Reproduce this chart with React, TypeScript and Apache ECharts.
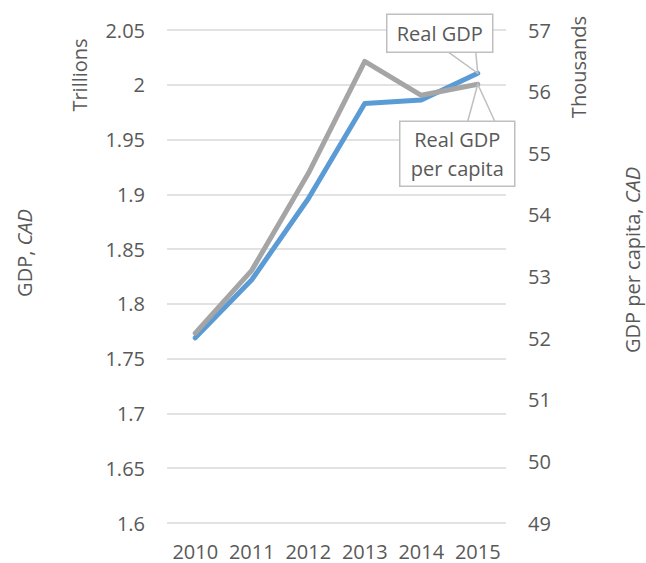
import React, { useEffect, useRef } from "react";
import * as echarts from "echarts";

const years = ["2010", "2011", "2012", "2013", "2014", "2015"];
const realGdpTrillions = [1.769, 1.822, 1.896, 1.983, 1.986, 2.0105];
const gdpPerCapitaThousands = [52.08, 53.1, 54.67, 56.49, 55.94, 56.12];
const leftAxisName = "Trillions";
const rightAxisName = "Thousands";
const leftTitle = ["GDP, ", "CAD"];
const rightTitle = ["GDP per capita, ", "CAD"];
const labelGdp = "Real GDP";
const labelPerCapita = ["Real GDP", "per capita"];

const FONT = "'Open Sans', sans-serif";
const TXT = "#595959";
const BLUE = "#5B9BD5";
const GRAY = "#A5A5A5";
const BOX = "#BFBFBF";

export default function App() {
  const ref = useRef<HTMLDivElement>(null);
  useEffect(() => {
    const chart = echarts.init(ref.current!, null, { renderer: "svg" });
    const option: any = {
      animation: false,
      backgroundColor: "#fff",
      grid: { left: 167, right: 140, top: 30, bottom: 40 },
      xAxis: {
        type: "category",
        data: years,
        boundaryGap: true,
        axisLine: { show: false },
        axisTick: { show: false },
        axisLabel: {
          color: TXT,
          fontFamily: FONT,
          fontSize: 20,
          margin: 18,
          interval: 0,
          hideOverlap: false,
        },
      },
      yAxis: [
        {
          type: "value",
          min: 1.6,
          max: 2.05,
          interval: 0.05,
          axisLine: { show: false },
          axisTick: { show: false },
          splitLine: { lineStyle: { color: "#D9D9D9", width: 1.5 } },
          axisLabel: {
            color: TXT,
            fontFamily: FONT,
            fontSize: 20,
            margin: 22,
            formatter: (v: number) => String(parseFloat(v.toFixed(2))),
          },
        },
        {
          type: "value",
          min: 49,
          max: 57,
          interval: 1,
          axisLine: { show: false },
          axisTick: { show: false },
          splitLine: { show: false },
          axisLabel: { color: TXT, fontFamily: FONT, fontSize: 20, margin: 22 },
        },
      ],
      series: [
        {
          name: "Real GDP",
          type: "line",
          yAxisIndex: 0,
          data: realGdpTrillions,
          symbol: "none",
          lineStyle: { color: BLUE, width: 5, cap: "round", join: "round" },
          z: 2,
        },
        {
          name: "Real GDP per capita",
          type: "line",
          yAxisIndex: 1,
          data: gdpPerCapitaThousands,
          symbol: "none",
          lineStyle: { color: GRAY, width: 5, cap: "round", join: "round" },
          z: 3,
        },
      ],
    };
    chart.setOption(option);

    const last = years.length - 1;
    const p1 = chart.convertToPixel({ gridIndex: 0 } as any, [last, realGdpTrillions[last]]) as number[];
    const p2 = chart.convertToPixel({ xAxisIndex: 0, yAxisIndex: 1 } as any, [last, gdpPerCapitaThousands[last]]) as number[];

    const textStyle = { fill: TXT, font: `20px ${FONT}` };
    const graphic: any[] = [
      {
        type: "text",
        x: 79,
        y: 75,
        rotation: Math.PI / 2,
        style: { text: leftAxisName, ...textStyle, align: "center", verticalAlign: "middle" },
      },
      {
        type: "text",
        x: 578,
        y: 67,
        rotation: Math.PI / 2,
        style: { text: rightAxisName, ...textStyle, align: "center", verticalAlign: "middle" },
      },
      {
        type: "text",
        x: 24,
        y: 253,
        rotation: Math.PI / 2,
        style: {
          text: `{n|${leftTitle[0]}}{i|${leftTitle[1]}}`,
          align: "center",
          verticalAlign: "middle",
          rich: {
            n: { fill: TXT, fontFamily: FONT, fontSize: 20 },
            i: { fill: TXT, fontFamily: FONT, fontSize: 20, fontStyle: "italic" },
          },
        },
      },
      {
        type: "text",
        x: 632,
        y: 260,
        rotation: Math.PI / 2,
        style: {
          text: `{n|${rightTitle[0]}}{i|${rightTitle[1]}}`,
          align: "center",
          verticalAlign: "middle",
          rich: {
            n: { fill: TXT, fontFamily: FONT, fontSize: 20 },
            i: { fill: TXT, fontFamily: FONT, fontSize: 20, fontStyle: "italic" },
          },
        },
      },
    ];

    const b1 = { x: p1[0] - 91, y: p1[1] - 59, w: 106, h: 38 };
    graphic.push(
      {
        type: "polyline",
        shape: { points: [[p1[0] - 29, b1.y + b1.h], [p1[0], p1[1]], [p1[0] - 2, b1.y + b1.h]] },
        style: { stroke: BOX, lineWidth: 1.5, fill: "none" },
        z: 10,
      },
      {
        type: "rect",
        shape: { x: b1.x, y: b1.y, width: b1.w, height: b1.h },
        style: { fill: "#fff", stroke: BOX, lineWidth: 1.5 },
        z: 10,
      },
      {
        type: "text",
        x: b1.x + b1.w / 2,
        y: b1.y + b1.h / 2,
        style: { text: labelGdp, ...textStyle, align: "center", verticalAlign: "middle" },
        z: 11,
      }
    );

    const b2 = { x: p2[0] - 78, y: p2[1] + 37, w: 115, h: 65 };
    graphic.push(
      {
        type: "polyline",
        shape: { points: [[p2[0] - 10, b2.y], [p2[0], p2[1]], [p2[0] + 17, b2.y]] },
        style: { stroke: BOX, lineWidth: 1.5, fill: "none" },
        z: 10,
      },
      {
        type: "rect",
        shape: { x: b2.x, y: b2.y, width: b2.w, height: b2.h },
        style: { fill: "#fff", stroke: BOX, lineWidth: 1.5 },
        z: 10,
      },
      {
        type: "text",
        x: b2.x + b2.w / 2,
        y: b2.y + b2.h / 2,
        style: {
          text: labelPerCapita.join("\n"),
          ...textStyle,
          lineHeight: 29,
          align: "center",
          verticalAlign: "middle",
        },
        z: 11,
      }
    );

    chart.setOption({ graphic });
    return () => chart.dispose();
  }, []);
  return (
    <div
      ref={ref}
      style={{ position: "fixed", left: 0, top: 0, width: 646, height: 563, background: "#fff" }}
    />
  );
}
